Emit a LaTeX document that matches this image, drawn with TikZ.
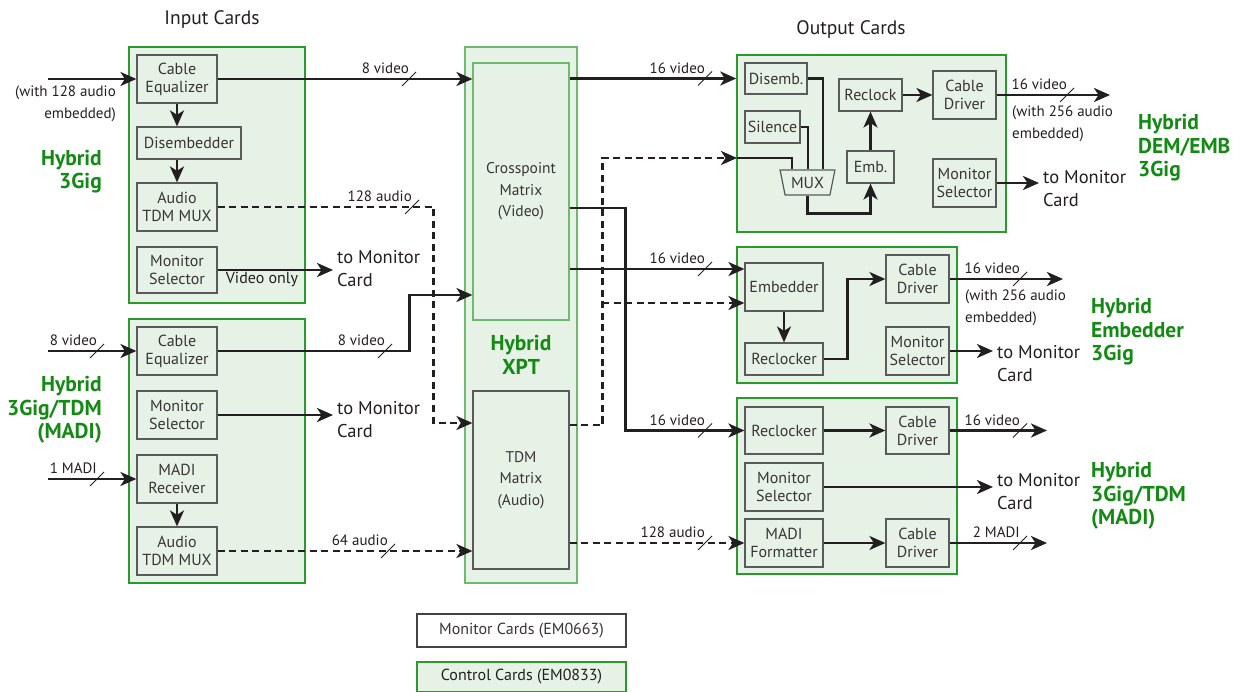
\documentclass[tikz,border=0pt]{standalone}
\usepackage{fontspec}
\setmainfont{PT Sans}
\usetikzlibrary{arrows.meta,shapes.geometric,positioning}
\definecolor{cFrame}{HTML}{2A9A2A}
\definecolor{cFill}{HTML}{E6F2E5}
\definecolor{cSoftFrame}{HTML}{6CBB6C}
\definecolor{cHyb}{HTML}{138A13}
\definecolor{cEdge}{HTML}{5A5A5A}
\definecolor{cLine}{HTML}{231F20}
\tikzset{
  card/.style  = {rectangle, draw=cFrame, fill=cFill, line width=1.5pt, inner sep=0pt},
  blk/.style   = {rectangle, draw=cEdge, fill=cFill, line width=1.2pt, align=center,
                  inner sep=0pt, font=\fontsize{16}{18}\selectfont, text=cLine!90},
  std/.style   = {blk, minimum width=80pt, minimum height=48pt},
  sml/.style   = {blk, minimum width=63pt, minimum height=48pt},
  mtx/.style   = {blk, minimum width=96pt, font=\fontsize{15.5}{21.5}\selectfont},
  ln/.style    = {draw=cLine, line width=2.6pt},
  ar/.style    = {ln, -{Stealth[length=16pt, width=14pt, inset=4.5pt]}},
  dsh/.style   = {ln, dash pattern=on 7pt off 4.5pt},
  dar/.style   = {ar, dash pattern=on 7pt off 4.5pt},
  slash/.style = {draw=cLine, line width=0.9pt},
  lbl/.style   = {font=\fontsize{15}{17}\selectfont, inner sep=1pt, text=cLine},
  note/.style  = {font=\fontsize{15}{22}\selectfont, inner sep=0pt, text=cLine},
  tomon/.style = {font=\fontsize{18.5}{23}\selectfont, align=left, inner xsep=4pt,
                  inner ysep=0pt, text=cLine},
  hyb/.style   = {font=\fontsize{21.5}{23.5}\selectfont\bfseries, text=cHyb, inner sep=0pt},
  ttl/.style   = {font=\fontsize{19.5}{21}\selectfont, text=cLine},
}
% bus width mark: name, x, y, label
\newcommand{\busmark}[4]{%
  \draw[slash] (#2-7,#3+7) -- (#2+7,#3-7);
  \node[lbl, anchor=south east] (#1) at (#2+1,#3-4) {#4};}

\begin{document}
\begin{tikzpicture}[x=1pt, y=-1pt]
  \useasboundingbox (0,0) rectangle (1253,692);

  \node[ttl] (tin) at (212,20) {Input Cards};
  \node[ttl] (tout) at (851,30) {Output Cards};

  % card frames
  \node[card, minimum width=176pt, minimum height=256pt] (ic1) at (217,175) {};
  \node[card, minimum width=176pt, minimum height=264pt] (ic2) at (217,451) {};
  \node[card, draw=cSoftFrame, minimum width=112pt, minimum height=536pt] (xpt) at (521,315) {};
  \node[card, minimum width=269pt, minimum height=177pt] (oc1) at (871.5,143.5) {};
  \node[card, minimum width=220pt, minimum height=136pt] (oc2) at (847,315) {};
  \node[card, minimum width=220pt, minimum height=176pt] (oc3) at (847,486) {};

  % input cards
  \node[std] (ce1) at (177,79) {Cable\\Equalizer};
  \node[blk, minimum width=104pt, minimum height=32pt] (dmb) at (189,143) {Disembedder};
  \node[std] (tdm1) at (177,207) {Audio\\TDM MUX};
  \node[std, minimum height=46pt] (ms1) at (177,270) {Monitor\\Selector};
  \node[std] (ce2) at (177,351) {Cable\\Equalizer};
  \node[std] (ms2) at (177,415) {Monitor\\Selector};
  \node[std] (madi) at (177,479) {MADI\\Receiver};
  \node[std] (tdm2) at (177,551) {Audio\\TDM MUX};

  % crosspoint card
  \node[mtx, draw=cSoftFrame, minimum height=257pt] (cpm) at (521,191.5) {Crosspoint\\Matrix\\(Video)};
  \node[mtx, minimum height=178pt] (tdmx) at (521,480) {TDM\\Matrix\\(Audio)};
  \node[hyb, align=center] (hxpt) at (521,355) {Hybrid\\XPT};

  % output card 1
  \node[blk, minimum width=62pt, minimum height=31pt] (dis) at (776,78.5) {Disemb.};
  \node[blk, minimum width=55pt, minimum height=32pt] (sil) at (772.5,127) {Silence};
  \node[blk, minimum width=63pt, minimum height=32pt] (rcl) at (870.5,95) {Reclock};
  \node[sml] (cd1) at (964.5,95) {Cable\\Driver};
  \node[blk, minimum width=47pt, minimum height=32pt] (emb) at (870.5,167) {Emb.};
  \node[sml] (ms3) at (964.5,183) {Monitor\\Selector};
  \node[blk, trapezium, trapezium angle=108, trapezium stretches=true,
        minimum width=55pt, minimum height=25pt] (mux) at (807.5,182.5) {MUX};

  % output card 2
  \node[std, minimum width=78pt] (emb2) at (784,287) {Embedder};
  \node[std, minimum width=78pt, minimum height=32pt] (rcl2) at (784,359) {Reclocker};
  \node[sml] (cd2) at (917.5,279) {Cable\\Driver};
  \node[sml] (ms4) at (917.5,351) {Monitor\\Selector};

  % output card 3
  \node[std, minimum width=78pt, minimum height=47pt] (rcl3) at (784,430.5) {Reclocker};
  \node[sml, minimum height=47pt] (cd3) at (917.5,430.5) {Cable\\Driver};
  \node[std, minimum width=78pt] (ms5) at (784,487) {Monitor\\Selector};
  \node[std, minimum width=78pt] (mfm) at (784,543) {MADI\\Formatter};
  \node[sml] (cd4) at (917.5,543) {Cable\\Driver};

  % side texts
  \node[note, align=right, anchor=east] (emA) at (116,104) {(with 128 audio\\embedded)};
  \node[note, align=left, anchor=west] (emB) at (1012,124) {(with 256 audio\\embedded)};
  \node[note, align=left, anchor=west] (emC) at (965,308) {(with 256 audio\\embedded)};
  \node[lbl, font=\fontsize{16}{18}\selectfont] (vo) at (262,279) {Video only};
  \node[tomon, anchor=west] (tmA) at (333,268.5) {to Monitor\\Card};
  \node[tomon, anchor=west] (tmB) at (333,420) {to Monitor\\Card};
  \node[tomon, anchor=west] (tmC) at (1039,188.5) {to Monitor\\Card};
  \node[tomon, anchor=west] (tmD) at (993,364) {to Monitor\\Card};
  \node[tomon, anchor=west] (tmE) at (993,492) {to Monitor\\Card};

  \node[hyb, align=right, anchor=east] (h1) at (102,171.5) {Hybrid\\3Gig};
  \node[hyb, align=right, anchor=east] (h2) at (102,410) {Hybrid\\3Gig/TDM\\(MADI)};
  \node[hyb, align=left, anchor=west] (h3) at (1138,148) {Hybrid\\DEM/EMB\\3Gig};
  \node[hyb, align=left, anchor=west] (h4) at (1091,332) {Hybrid\\Embedder\\3Gig};
  \node[hyb, align=left, anchor=west] (h5) at (1091,496) {Hybrid\\3Gig/TDM\\(MADI)};

  % free ends and junctions
  \coordinate (src1) at (48,79);
  \coordinate (src2) at (48,351);
  \coordinate (src3) at (48,479);
  \coordinate (mxin) at (737,158);
  \coordinate (tap) at (602,303);
  \coordinate (out1) at (1110,95);
  \coordinate (out2) at (1063,279);
  \coordinate (out3) at (1047,430.5);
  \coordinate (out4) at (1047,543);
  \coordinate (tdmxA) at ([yshift=57pt]tdmx.west);
  \coordinate (tdmxB) at ([yshift=55pt]tdmx.east);
  \coordinate (cpmA) at ([yshift=-103.5pt]cpm.west);
  \coordinate (cpmB) at ([yshift=-16.5pt]cpm.east);
  \coordinate (emb2in) at ([yshift=18pt]emb2.west);
  \coordinate (muxA) at ([xshift=15.5pt]mux.north);
  \coordinate (muxB) at ([xshift=0.5pt]mux.north);
  \coordinate (muxC) at ([xshift=-15.5pt]mux.north);

  % input side
  \draw[ar] (src1) -- (ce1.west);
  \draw[ar] (src2) -- (ce2.west);
  \draw[ar] (src3) -- (madi.west);
  \draw[ar] (ce1.south) -- (ce1.south |- dmb.north);
  \draw[ar] (dmb.south -| tdm1.north) -- (tdm1.north);
  \draw[ar] (madi) -- (tdm2);
  \draw[ar] (ce1.east) -- (cpm.west |- ce1.east);
  \draw[dar] (tdm1.east) -- ++(216,0) |- (tdmxA);
  \draw[ar] (ms1.east) -- (ms1.east -| tmA.west);
  \draw[ar] (ce2.east) -- ++(192,0) |- (cpmA);
  \draw[ar] (ms2.east) -- (ms2.east -| tmB.west);
  \draw[dar] (tdm2.east) -- (tdm2.east -| tdmx.west);

  % crosspoint to output cards
  \draw[ar] (cpm.east |- dis.west) -- (oc1.west |- dis.west);
  \draw[dar] (tdmxB) -- ++(33,0) |- (mxin);
  \draw[dar] (tap) -- (tap -| emb2.west);
  \draw[ar] (cpm.east |- emb2in) -- (emb2in);
  \draw[ar] (cpmB) -- ++(56,0) |- (rcl3.west);
  \draw[dar] (tdmx.east |- mfm.west) -- (mfm.west);

  % output card 1
  \draw[ln] (dis.east) -| (muxA);
  \draw[ln] (sil.east) -| (muxB);
  \draw[ln] (mxin) -| (muxC);
  \draw[ar] (mux.south) -- ++(0,18) -| (emb.south);
  \draw[ar] (emb) -- (rcl);
  \draw[ar] (rcl) -- (cd1);
  \draw[ar] (cd1.east) -- (out1);
  \draw[ar] (ms3.east) -- (ms3.east -| tmC.west);

  % output card 2
  \draw[ar] (emb2) -- (rcl2);
  \draw[ar] (rcl2.east) -- ++(24,0) |- (cd2.west);
  \draw[ar] (cd2.east) -- (out2);
  \draw[ar] (ms4.east) -- (ms4.east -| tmD.west);

  % output card 3
  \draw[ar] (rcl3) -- (cd3);
  \draw[ar] (cd3.east) -- (out3);
  \draw[ar] (ms5.east) -- (ms5.east -| tmE.west);
  \draw[ar] (mfm) -- (cd4);
  \draw[ar] (cd4.east) -- (out4);

  % bus widths
  \busmark{bA}{409}{79}{8 video}
  \busmark{bB}{412}{207}{128 audio}
  \busmark{bC}{97}{351}{8 video}
  \busmark{bD}{385}{351}{8 video}
  \busmark{bE}{97}{479}{1 MADI}
  \busmark{bF}{388}{551}{64 audio}
  \busmark{bG}{705}{78.5}{16 video}
  \busmark{bH}{705}{269}{16 video}
  \busmark{bI}{705}{430.5}{16 video}
  \busmark{bJ}{705}{543}{128 audio}
  \busmark{bK}{1067}{95}{16 video}
  \busmark{bL}{1020}{279}{16 video}
  \busmark{bM}{1020}{430.5}{16 video}
  \busmark{bN}{1020}{543}{2 MADI}

  % legend
  \node[blk, fill=white, draw=cLine!85, minimum width=209pt, minimum height=33pt] (lgM) at (521.5,630.5) {Monitor Cards (EM0663)};
  \node[card, minimum width=209pt, minimum height=30pt, font=\fontsize{16}{18}\selectfont, text=cLine] (lgC) at (521.5,677) {Control Cards (EM0833)};
\end{tikzpicture}
\end{document}
